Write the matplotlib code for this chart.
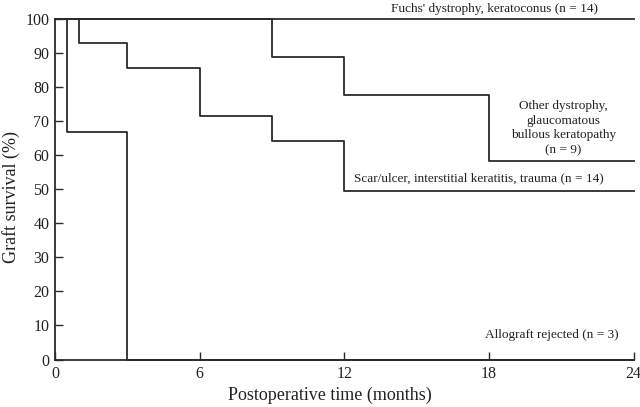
import matplotlib
matplotlib.use('Agg')
import matplotlib.pyplot as plt

plt.rcParams['font.family'] = ['Liberation Serif', 'DejaVu Serif']

# Kaplan-Meier step data (months, % survival)
fuchs_t = [0, 24]
fuchs_s = [100, 100]

other_t = [0, 9, 12, 18, 24]
other_s = [100, 88.9, 77.8, 58.3, 58.3]

scar_t = [0, 1, 3, 6, 9, 12, 24]
scar_s = [100, 92.9, 85.7, 71.4, 64.3, 49.5, 49.5]

allo_t = [0, 0.5, 3, 24]
allo_s = [100, 66.7, 0, 0]

xticks = [0, 6, 12, 18, 24]
yticks = list(range(0, 101, 10))

fig = plt.figure(figsize=(6.4, 4.07), dpi=100)
ax = fig.add_axes([55/640, 1 - 359.5/407, 578.5/640, 340.5/407])

col = '#2b2b2b'
for t, s in [(fuchs_t, fuchs_s), (other_t, other_s), (scar_t, scar_s), (allo_t, allo_s)]:
    ax.step(t, s, where='post', color=col, lw=1.3, clip_on=False)

ax.set_xlim(0, 24)
ax.set_ylim(0, 100)
ax.set_xticks(xticks)
ax.set_yticks(yticks)
ax.tick_params(direction='in', length=6, width=1, colors=col, labelsize=11.5, labelcolor='#222222')
ax.tick_params(axis='x', pad=5)
ax.tick_params(axis='y', pad=4)
for sp in ['top', 'right']:
    ax.spines[sp].set_visible(False)
for sp in ['left', 'bottom']:
    ax.spines[sp].set_color(col)
    ax.spines[sp].set_linewidth(1.3)

ax.set_xlabel('Postoperative time (months)', fontsize=13, color='#222222')
ax.set_ylabel('Graft survival (%)', fontsize=13, color='#222222')
ax.xaxis.set_label_coords(0.475, -0.08)
ax.yaxis.set_label_coords(-0.061, 0.476)

fs = 9.5
ax.text(18.25, 101.3, "Fuchs' dystrophy, keratoconus (n = 14)", ha='center', va='bottom',
        fontsize=fs, color='#222222')
ax.text(21.1, 68, "Other dystrophy,\nglaucomatous\nbullous keratopathy\n(n = 9)", ha='center',
        va='center', fontsize=fs, color='#222222', linespacing=1.3)
ax.text(12.4, 53.2, "Scar/ulcer, interstitial keratitis, trauma (n = 14)", ha='left', va='center',
        fontsize=fs, color='#222222')
ax.text(20.6, 7.3, "Allograft rejected (n = 3)", ha='center', va='center',
        fontsize=fs, color='#222222')

fig.savefig('out.png', dpi=100)
